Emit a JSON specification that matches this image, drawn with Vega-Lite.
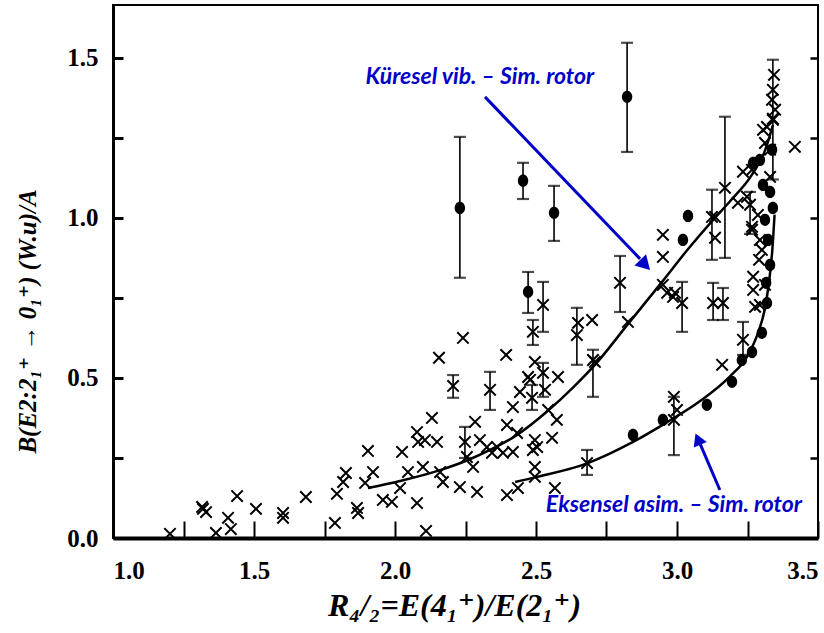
{
  "$schema": "https://vega.github.io/schema/vega-lite/v6.json",
  "width": 705,
  "height": 533,
  "autosize": {"type": "none"},
  "padding": {"left": 113, "top": 5, "right": 6, "bottom": 95},
  "background": "white",
  "config": {
    "view": {"stroke": "black", "strokeWidth": 2},
    "axis": {"labelFont": "'Liberation Serif', 'DejaVu Serif', serif", "labelFontWeight": "bold", "labelFontSize": 25, "labelColor": "black", "tickColor": "black", "domainColor": "black", "titleColor": "black", "grid": false, "labelOverlap": false}
  },
  "datasets": {
    "crosses": [
      {"x":1.202,"y":0.013},{"x":1.316,"y":0.097},{"x":1.330,"y":0.081},{"x":1.319,"y":0.091},{"x":1.440,"y":0.131},{"x":1.408,"y":0.063},{"x":1.418,"y":0.028},{"x":1.365,"y":0.016},{"x":1.507,"y":0.091},{"x":1.603,"y":0.078},{"x":1.603,"y":0.063},{"x":1.684,"y":0.128},{"x":1.787,"y":0.047},{"x":1.794,"y":0.138},{"x":1.816,"y":0.175},{"x":1.826,"y":0.203},{"x":1.865,"y":0.094},{"x":1.869,"y":0.078},{"x":1.894,"y":0.172},{"x":1.904,"y":0.272},{"x":1.922,"y":0.206},{"x":1.957,"y":0.119},{"x":1.989,"y":0.113},{"x":2.025,"y":0.269},{"x":2.018,"y":0.156},{"x":2.046,"y":0.206},{"x":2.078,"y":0.109},{"x":2.078,"y":0.331},{"x":2.082,"y":0.300},{"x":2.106,"y":0.306},{"x":2.131,"y":0.375},{"x":2.149,"y":0.300},{"x":2.156,"y":0.563},{"x":2.241,"y":0.625},{"x":2.099,"y":0.222},{"x":2.160,"y":0.206},{"x":2.170,"y":0.175},{"x":2.230,"y":0.159},{"x":2.110,"y":0.022},{"x":2.255,"y":0.253},{"x":2.277,"y":0.222},{"x":2.284,"y":0.363},{"x":2.291,"y":0.144},{"x":2.301,"y":0.306},{"x":2.326,"y":0.284},{"x":2.344,"y":0.266},{"x":2.362,"y":0.284},{"x":2.383,"y":0.266},{"x":2.394,"y":0.572},{"x":2.397,"y":0.353},{"x":2.397,"y":0.134},{"x":2.418,"y":0.269},{"x":2.418,"y":0.409},{"x":2.433,"y":0.328},{"x":2.436,"y":0.156},{"x":2.443,"y":0.456},{"x":2.479,"y":0.494},{"x":2.489,"y":0.275},{"x":2.496,"y":0.222},{"x":2.496,"y":0.550},{"x":2.472,"y":0.503},{"x":2.532,"y":0.463},{"x":2.578,"y":0.503},{"x":2.543,"y":0.400},{"x":2.574,"y":0.369},{"x":2.649,"y":0.672},{"x":2.699,"y":0.681},{"x":2.709,"y":0.550},{"x":2.826,"y":0.675},{"x":2.950,"y":0.791},{"x":2.986,"y":0.753},{"x":2.496,"y":0.306},{"x":2.504,"y":0.284},{"x":2.557,"y":0.313},{"x":2.496,"y":0.191},{"x":2.567,"y":0.156},{"x":3.000,"y":0.400},{"x":2.950,"y":0.947},{"x":2.950,"y":0.878},{"x":2.965,"y":0.766},{"x":2.993,"y":0.766},{"x":3.135,"y":1.003},{"x":3.135,"y":0.938},{"x":3.216,"y":1.047},{"x":3.234,"y":1.144},{"x":3.319,"y":1.284},{"x":3.340,"y":1.400},{"x":3.348,"y":1.338},{"x":3.340,"y":1.306},{"x":3.418,"y":1.222},{"x":3.305,"y":1.275},{"x":3.312,"y":1.234},{"x":3.330,"y":1.128},{"x":3.266,"y":1.150},{"x":3.266,"y":0.972},{"x":3.266,"y":0.963},{"x":3.248,"y":1.066},{"x":3.160,"y":0.541},{"x":3.270,"y":0.816},{"x":3.270,"y":0.775},{"x":3.277,"y":0.722},{"x":2.989,"y":0.441},{"x":3.291,"y":0.869},{"x":3.294,"y":0.931},{"x":3.330,"y":1.213},{"x":3.337,"y":1.369},{"x":3.344,"y":1.447},{"x":3.287,"y":1.009},{"x":3.301,"y":0.900},{"x":3.312,"y":0.791},{"x":3.294,"y":0.728},
      {"x":2.206,"y":0.475},{"x":2.337,"y":0.463},{"x":2.248,"y":0.300},{"x":2.486,"y":0.438},{"x":2.489,"y":0.644},{"x":2.525,"y":0.728},{"x":2.525,"y":0.516},{"x":2.645,"y":0.634},{"x":2.702,"y":0.556},{"x":2.798,"y":0.797},{"x":3.018,"y":0.734},{"x":3.124,"y":1.003},{"x":3.170,"y":1.094},{"x":3.128,"y":0.734},{"x":3.163,"y":0.734},{"x":3.234,"y":0.619},{"x":2.681,"y":0.234},{"x":2.989,"y":0.369},{"x":3.340,"y":1.310},{"x":3.259,"y":1.041}
    ],
    "errs": [
      {"x":2.206,"lo":0.438,"hi":0.509},{"x":2.337,"lo":0.400,"hi":0.519},{"x":2.248,"lo":0.250,"hi":0.347},{"x":2.486,"lo":0.400,"hi":0.478},{"x":2.489,"lo":0.603,"hi":0.681},{"x":2.525,"lo":0.644,"hi":0.800},{"x":2.525,"lo":0.441,"hi":0.547},{"x":2.645,"lo":0.541,"hi":0.719},{"x":2.702,"lo":0.441,"hi":0.588},{"x":2.798,"lo":0.706,"hi":0.881},{"x":3.018,"lo":0.644,"hi":0.800},{"x":3.124,"lo":0.869,"hi":1.088},{"x":3.170,"lo":0.875,"hi":1.316},{"x":3.128,"lo":0.681,"hi":0.797},{"x":3.163,"lo":0.681,"hi":0.781},{"x":3.234,"lo":0.572,"hi":0.675},{"x":2.681,"lo":0.197,"hi":0.275},{"x":2.989,"lo":0.259,"hi":0.441},{"x":3.340,"lo":1.120,"hi":1.494},{"x":3.259,"lo":0.950,"hi":1.081},
      {"x":2.230,"lo":0.813,"hi":1.253},{"x":2.454,"lo":1.059,"hi":1.172},{"x":2.564,"lo":0.928,"hi":1.100},{"x":2.823,"lo":1.206,"hi":1.547},{"x":2.472,"lo":0.703,"hi":0.831}
    ],
    "circles": [
      {"x":2.230,"y":1.031},{"x":2.454,"y":1.116},{"x":2.564,"y":1.016},{"x":2.823,"y":1.378},{"x":2.472,"y":0.769},{"x":3.039,"y":1.006},{"x":3.021,"y":0.931},{"x":3.270,"y":1.172},{"x":2.844,"y":0.322},{"x":2.950,"y":0.369},{"x":3.106,"y":0.416},{"x":3.195,"y":0.488},{"x":3.230,"y":0.556},{"x":3.266,"y":0.581},{"x":3.301,"y":0.641},{"x":3.319,"y":0.734},{"x":3.330,"y":0.853},{"x":3.340,"y":1.031},{"x":3.323,"y":0.931},{"x":3.312,"y":0.994},{"x":3.305,"y":1.103},{"x":3.330,"y":1.081},{"x":3.294,"y":1.181},{"x":3.337,"y":1.213},{"x":3.316,"y":0.797}
    ],
    "curves": [
      {"curve":"upper","x":1.904,"y":0.156},{"curve":"upper","x":2.018,"y":0.178},{"curve":"upper","x":2.160,"y":0.212},{"curve":"upper","x":2.255,"y":0.242},{"curve":"upper","x":2.337,"y":0.275},{"curve":"upper","x":2.433,"y":0.322},{"curve":"upper","x":2.539,"y":0.395},{"curve":"upper","x":2.631,"y":0.470},{"curve":"upper","x":2.716,"y":0.548},{"curve":"upper","x":2.823,"y":0.665},{"curve":"upper","x":2.947,"y":0.800},{"curve":"upper","x":3.035,"y":0.898},{"curve":"upper","x":3.128,"y":0.994},{"curve":"upper","x":3.188,"y":1.052},{"curve":"upper","x":3.266,"y":1.135},{"curve":"upper","x":3.312,"y":1.210},{"curve":"upper","x":3.340,"y":1.290},
      {"curve":"lower","x":2.426,"y":0.175},{"curve":"lower","x":2.504,"y":0.191},{"curve":"lower","x":2.684,"y":0.234},{"curve":"lower","x":2.844,"y":0.300},{"curve":"lower","x":2.965,"y":0.362},{"curve":"lower","x":3.082,"y":0.428},{"curve":"lower","x":3.188,"y":0.505},{"curve":"lower","x":3.248,"y":0.566},{"curve":"lower","x":3.287,"y":0.640},{"curve":"lower","x":3.310,"y":0.710},{"curve":"lower","x":3.326,"y":0.797},{"curve":"lower","x":3.338,"y":0.900},{"curve":"lower","x":3.346,"y":1.010}
    ],
    "arrows": [
      {"arrow":"a1","x":2.319,"y":1.378},{"arrow":"a1","x":2.869,"y":0.872},
      {"arrow":"a2","x":3.152,"y":0.150},{"arrow":"a2","x":3.082,"y":0.294}
    ],
    "labels": [
      {"x":2.301,"y":1.441,"text":"Küresel vib. – Sim. rotor"},
      {"x":2.989,"y":0.103,"text":"Eksensel asim. – Sim. rotor"}
    ]
  },
  "layer": [
    {
      "data": {"name": "curves"},
      "mark": {"type": "line", "color": "black", "strokeWidth": 2.5, "interpolate": "monotone"},
      "encoding": {
        "x": {"field": "x", "type": "quantitative", "scale": {"domain": [1.0, 3.5], "nice": false, "zero": false},
          "axis": {"title": "R₄/₂=E(4₁⁺)/E(2₁⁺)", "values": [1.0,1.25,1.5,1.75,2.0,2.25,2.5,2.75,3.0,3.25,3.5],
            "labelExpr": "datum.value * 2 == round(datum.value * 2) ? format(datum.value, '.1f') : ''",
            "labelFont": "'Liberation Serif', 'DejaVu Serif', serif", "labelFontWeight": "bold", "labelFontSize": 25,
            "tickSize": -17, "tickWidth": 2, "labelPadding": 37, "labelFlush": true, "domainWidth": 4,
            "titleFont": "'Liberation Serif', 'DejaVu Serif', serif", "titleFontStyle": "italic", "titleFontWeight": "bold", "titleFontSize": 32,
            "titleX": 341, "titleY": 67, "titleBaseline": "middle", "titleAlign": "center", "titleAnchor": null}},
        "y": {"field": "y", "type": "quantitative", "scale": {"domain": [0, 1.665], "nice": false, "zero": false},
          "axis": {"title": "B(E2:2₁⁺ → 0₁⁺) (W.u)/A", "values": [0,0.25,0.5,0.75,1.0,1.25,1.5],
            "labelExpr": "datum.value * 2 == round(datum.value * 2) ? format(datum.value, '.1f') : ''",
            "labelFont": "'Liberation Serif', 'DejaVu Serif', serif", "labelFontWeight": "bold", "labelFontSize": 25,
            "tickSize": -10, "tickWidth": 3, "labelPadding": 25, "domainWidth": 3,
            "titleFont": "'Liberation Serif', 'DejaVu Serif', serif", "titleFontStyle": "italic", "titleFontWeight": "bold", "titleFontSize": 25,
            "titleX": -86, "titleY": 316, "titleBaseline": "middle", "titleAlign": "center", "titleAngle": -90}},
        "detail": {"field": "curve"}
      }
    },
    {
      "data": {"name": "errs"},
      "mark": {"type": "rule", "color": "black", "strokeWidth": 1.6},
      "encoding": {
        "x": {"field": "x", "type": "quantitative"},
        "y": {"field": "lo", "type": "quantitative", "axis": {"orient": "right", "title": null, "labels": false, "tickSize": -8, "tickWidth": 2.5, "domain": false, "values": [0.25,0.5,0.75,1.0,1.25,1.5]}},
        "y2": {"field": "hi"}
      }
    },
    {
      "data": {"name": "errs"},
      "mark": {"type": "tick", "orient": "horizontal", "color": "black", "size": 12, "thickness": 2.2},
      "encoding": {
        "x": {"field": "x", "type": "quantitative"},
        "y": {"field": "lo", "type": "quantitative", "axis": null}
      }
    },
    {
      "data": {"name": "errs"},
      "mark": {"type": "tick", "orient": "horizontal", "color": "black", "size": 12, "thickness": 2.2},
      "encoding": {
        "x": {"field": "x", "type": "quantitative"},
        "y": {"field": "hi", "type": "quantitative", "axis": null}
      }
    },
    {
      "data": {"name": "crosses"},
      "mark": {"type": "point", "shape": "M-1,-1L1,1M1,-1L-1,1", "filled": false, "color": "black", "strokeWidth": 2, "size": 130, "opacity": 1},
      "encoding": {
        "x": {"field": "x", "type": "quantitative"},
        "y": {"field": "y", "type": "quantitative", "axis": null}
      }
    },
    {
      "data": {"name": "circles"},
      "mark": {"type": "point", "shape": "M-0.85,0A0.85,1 0 1,0 0.85,0A0.85,1 0 1,0 -0.85,0Z", "filled": true, "color": "black", "size": 150, "opacity": 1},
      "encoding": {
        "x": {"field": "x", "type": "quantitative"},
        "y": {"field": "y", "type": "quantitative", "axis": null}
      }
    },
    {
      "data": {"name": "arrows"},
      "mark": {"type": "line", "color": "#0000c8", "strokeWidth": 3},
      "encoding": {
        "x": {"field": "x", "type": "quantitative"},
        "y": {"field": "y", "type": "quantitative", "axis": null},
        "detail": {"field": "arrow"}
      }
    },
    {
      "data": {"values": [{"x": 2.887, "y": 0.853}]},
      "mark": {"type": "point", "shape": "triangle-up", "filled": true, "color": "#0000c8", "size": 260, "angle": 136, "opacity": 1},
      "encoding": {
        "x": {"field": "x", "type": "quantitative"},
        "y": {"field": "y", "type": "quantitative", "axis": null}
      }
    },
    {
      "data": {"values": [{"x": 3.074, "y": 0.309}]},
      "mark": {"type": "point", "shape": "triangle-up", "filled": true, "color": "#0000c8", "size": 200, "angle": 337, "opacity": 1},
      "encoding": {
        "x": {"field": "x", "type": "quantitative"},
        "y": {"field": "y", "type": "quantitative", "axis": null}
      }
    },
    {
      "data": {"name": "labels"},
      "mark": {"type": "text", "font": "Lato", "fontStyle": "italic", "fontWeight": "bold", "fontSize": 23, "color": "#0000c8", "align": "center", "baseline": "middle"},
      "encoding": {
        "x": {"field": "x", "type": "quantitative"},
        "y": {"field": "y", "type": "quantitative", "axis": null},
        "text": {"field": "text"}
      }
    }
  ],
  "resolve": {"axis": {"y": "independent"}}
}
